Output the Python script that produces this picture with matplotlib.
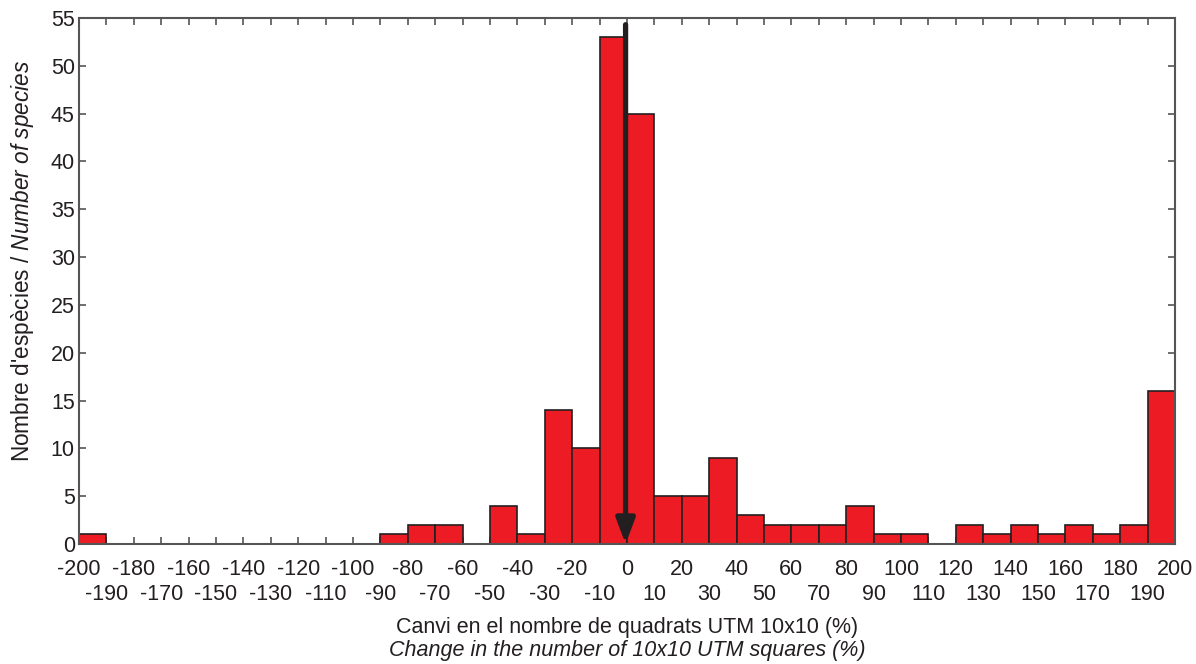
import numpy as np
import matplotlib
matplotlib.use("Agg")
import matplotlib.pyplot as plt

plt.rcParams['font.family'] = ['Liberation Sans', 'DejaVu Sans']
plt.rcParams['mathtext.fontset'] = 'custom'
plt.rcParams['mathtext.rm'] = 'Liberation Sans'
plt.rcParams['mathtext.it'] = 'Liberation Sans:italic'

# Bin left edges (% change) and number of species per 10% bin
bin_left = list(range(-200, 200, 10))
counts = [1, 0, 0, 0, 0, 0, 0, 0, 0, 0, 0, 1, 2, 2, 0, 4, 1, 14, 10, 53,
          45, 5, 5, 9, 3, 2, 2, 2, 4, 1, 1, 0, 2, 1, 2, 1, 2, 1, 2, 16]
major_ticks = list(range(-200, 201, 20))
minor_ticks = list(range(-190, 200, 20))
yticks = list(range(0, 56, 5))

bar_red = '#ED1C24'
dark = '#231F20'
fs = 15.5

fig = plt.figure(figsize=(11.96, 6.64), dpi=100)
ax = fig.add_axes([0.066, 0.1807, 0.9164, 0.7922])

ax.bar(bin_left, counts, width=10, align='edge', color=bar_red,
       edgecolor=dark, linewidth=1.2, zorder=2)

# arrow marking zero change
ax.annotate('', xy=(-0.5, 0), xytext=(-0.5, 54.3),
            arrowprops=dict(arrowstyle='-|>,head_length=0.45,head_width=0.17',
                            color=dark, lw=3.8, mutation_scale=33,
                            shrinkA=0, shrinkB=0),
            zorder=3)

ax.set_xlim(-200, 200)
ax.set_ylim(0, 55)
ax.set_xticks(major_ticks)
ax.set_xticklabels([str(t) for t in major_ticks])
ax.set_xticks(minor_ticks, minor=True)
ax.set_xticklabels([str(t) for t in minor_ticks], minor=True)
ax.set_yticks(yticks)

ax.tick_params(which='both', direction='in', top=True, right=True,
               length=5, width=1.2, color='#555555', labelsize=fs,
               labelcolor=dark)
ax.tick_params(axis='x', which='major', pad=11)
ax.tick_params(axis='x', which='minor', pad=29)
ax.tick_params(axis='y', pad=3)

for s in ax.spines.values():
    s.set_color('#555555')
    s.set_linewidth(1.5)

fig.text(0.0184, 0.607, "Nombre d'espècies / $\\it{Number\\ of\\ species}$",
         rotation=90, ha='center', va='center', fontsize=16.3, color=dark)

fig.text(0.5247, 0.0557, 'Canvi en el nombre de quadrats UTM 10x10 (%)',
         ha='center', va='center', fontsize=fs, color=dark)
fig.text(0.5247, 0.021, 'Change in the number of 10x10 UTM squares (%)',
         ha='center', va='center', fontsize=fs, style='italic', color=dark)

fig.savefig('out.png', dpi=100)
